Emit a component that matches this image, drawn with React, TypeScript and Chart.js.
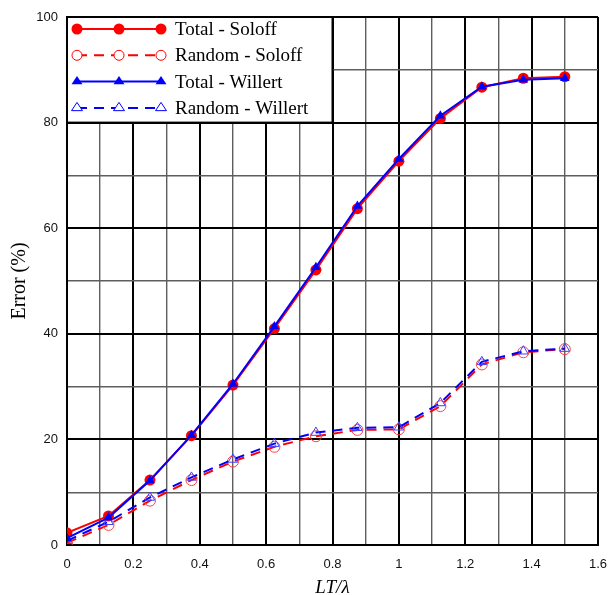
import React, { useEffect, useRef } from "react";
import { Chart, registerables } from "chart.js";

Chart.register(...registerables);

const xValues = [0, 0.125, 0.25, 0.375, 0.5, 0.625, 0.75, 0.875, 1.0, 1.125, 1.25, 1.375, 1.5];
const totalSoloff = [2.3, 5.5, 12.3, 20.7, 30.3, 41.0, 52.1, 63.7, 72.7, 80.8, 86.7, 88.4, 88.7];
const randomSoloff = [0.4, 3.8, 8.4, 12.3, 15.8, 18.6, 20.6, 21.8, 21.9, 26.3, 34.2, 36.5, 37.1];
const totalWillert = [1.3, 5.2, 12.2, 20.8, 30.5, 41.4, 52.6, 64.2, 73.1, 81.3, 86.8, 88.1, 88.4];
const randomWillert = [0.8, 4.4, 9.0, 12.8, 16.2, 19.2, 21.3, 22.2, 22.3, 26.9, 34.7, 36.7, 37.2];

const xTickLabels = ["0", "0.2", "0.4", "0.6", "0.8", "1", "1.2", "1.4", "1.6"];
const yTickLabels = ["0", "20", "40", "60", "80", "100"];
const legendLabels = ["Total - Soloff", "Random - Soloff", "Total - Willert", "Random - Willert"];

const RED = "#ff0000";
const BLUE = "#0000ff";

const toPts = (ys: number[]) => xValues.map((x, i) => ({ x, y: ys[i] }));

const isMajorX = (v: number) => Math.abs(Math.round(v * 10)) % 2 === 0;
const isMajorY = (v: number) => Math.round(v) % 20 === 0;

function drawMarker(ctx: CanvasRenderingContext2D, style: string, x: number, y: number, r: number, color: string, filled: boolean) {
  ctx.save();
  ctx.beginPath();
  if (style === "circle") {
    ctx.arc(x, y, r, 0, Math.PI * 2);
  } else {
    const h = r * 1.5;
    ctx.moveTo(x, y - r);
    ctx.lineTo(x + r * 0.866 * 1.15, y + h - r);
    ctx.lineTo(x - r * 0.866 * 1.15, y + h - r);
    ctx.closePath();
  }
  if (filled) {
    ctx.fillStyle = color;
    ctx.fill();
  } else {
    ctx.fillStyle = "#ffffff";
    ctx.fill();
    ctx.lineWidth = 1;
    ctx.strokeStyle = color;
    ctx.stroke();
  }
  ctx.restore();
}

const legendBoxPlugin = {
  id: "legendBox",
  beforeDatasetsDraw(chart: any) {
    const { ctx, scales } = chart;
    const x0 = scales.x.getPixelForValue(0);
    const x1 = scales.x.getPixelForValue(0.8);
    const y0 = scales.y.getPixelForValue(100);
    const y1 = scales.y.getPixelForValue(80);
    ctx.save();
    ctx.fillStyle = "#ffffff";
    ctx.fillRect(x0, y0, x1 - x0, y1 - y0);
    ctx.strokeStyle = "#000";
    ctx.lineWidth = 2;
    ctx.strokeRect(x0, y0, x1 - x0, y1 - y0);
    ctx.restore();
  },
  afterDraw(chart: any) {
    const { ctx, scales } = chart;
    const x0 = scales.x.getPixelForValue(0);
    const y0 = scales.y.getPixelForValue(100);
    const entries = [
      { color: RED, dash: [], marker: "circle", filled: true, r: 5.5 },
      { color: RED, dash: [10, 7], marker: "circle", filled: false, r: 5 },
      { color: BLUE, dash: [], marker: "triangle", filled: true, r: 5.5 },
      { color: BLUE, dash: [10, 7], marker: "triangle", filled: false, r: 5.5 },
    ];
    const lx0 = x0 + 10;
    const lx1 = x0 + 94;
    ctx.save();
    entries.forEach((e, i) => {
      const y = y0 + 12 + i * 26.3;
      ctx.beginPath();
      ctx.setLineDash(e.dash);
      ctx.strokeStyle = e.color;
      ctx.lineWidth = 2;
      ctx.moveTo(lx0, y);
      ctx.lineTo(lx1, y);
      ctx.stroke();
      ctx.setLineDash([]);
      [lx0, (lx0 + lx1) / 2, lx1].forEach((mx) => drawMarker(ctx, e.marker, mx, y, e.r, e.color, e.filled));
      ctx.fillStyle = "#000";
      ctx.font = "19px 'Liberation Serif', 'Times New Roman', serif";
      ctx.textBaseline = "middle";
      ctx.textAlign = "left";
      ctx.fillText(legendLabels[i], x0 + 108, y + 1);
    });
    ctx.restore();
  },
};

export default function App() {
  const canvasRef = useRef<HTMLCanvasElement | null>(null);

  useEffect(() => {
    if (!canvasRef.current) return;
    const chart = new Chart(canvasRef.current, {
      type: "line",
      data: {
        datasets: [
          {
            label: legendLabels[0],
            data: toPts(totalSoloff),
            borderColor: RED,
            backgroundColor: RED,
            borderWidth: 2,
            pointStyle: "circle",
            pointRadius: 5.5,
            pointBorderWidth: 0,
            order: 2,
          },
          {
            label: legendLabels[1],
            data: toPts(randomSoloff),
            borderColor: RED,
            backgroundColor: "rgba(255,255,255,0)",
            pointBorderColor: "#ff4040",
            borderWidth: 2,
            borderDash: [10, 7],
            pointStyle: "circle",
            pointRadius: 5.5,
            pointBorderWidth: 1,
            order: 2,
          },
          {
            label: legendLabels[2],
            data: toPts(totalWillert),
            borderColor: BLUE,
            backgroundColor: BLUE,
            borderWidth: 2,
            pointStyle: "triangle",
            pointRadius: 5.5,
            pointBorderWidth: 0,
            order: 1,
          },
          {
            label: legendLabels[3],
            data: toPts(randomWillert),
            borderColor: BLUE,
            backgroundColor: "rgba(255,255,255,0)",
            pointBorderColor: "#4040ff",
            borderWidth: 2,
            borderDash: [10, 7],
            pointStyle: "triangle",
            pointRadius: 5.5,
            pointBorderWidth: 1,
            order: 1,
          },
        ],
      },
      options: {
        responsive: false,
        animation: false,
        events: [],
        layout: { padding: { left: 0, right: 12, top: 17, bottom: 0 } },
        plugins: { legend: { display: false }, tooltip: { enabled: false } },
        scales: {
          x: {
            type: "linear",
            min: 0,
            max: 1.6,
            afterFit: (s: any) => { s.height = 50; s.paddingRight = 0; s.paddingLeft = 0; },
            ticks: {
              stepSize: 0.1,
              autoSkip: false,
              maxRotation: 0,
              padding: 12,
              color: "#111",
              font: { family: "'Liberation Sans', Arial, sans-serif", size: 13 },
              callback: (v: any) => {
                const n = Number(v);
                if (!isMajorX(n)) return "";
                return xTickLabels[Math.round(n * 5)] ?? "";
              },
            },
            grid: {
              drawTicks: false,
              color: (c: any) => (c.tick && isMajorX(c.tick.value) ? "#000" : "#5e5e5e"),
              lineWidth: (c: any) => (c.tick && isMajorX(c.tick.value) ? 2 : 1.4),
            },
            border: { color: "#000", width: 2 },
            title: {
              display: true,
              text: "LT/λ",
              color: "#000",
              font: { family: "'Liberation Serif', 'Times New Roman', serif", size: 19, style: "italic", lineHeight: 0.75 },
              padding: { top: 0, bottom: 0 },
            },
          },
          y: {
            type: "linear",
            min: 0,
            max: 100,
            afterFit: (s: any) => { s.width = 67; s.paddingTop = 0; s.paddingBottom = 0; },
            ticks: {
              stepSize: 10,
              autoSkip: false,
              padding: 9,
              color: "#111",
              font: { family: "'Liberation Sans', Arial, sans-serif", size: 13 },
              callback: (v: any) => {
                const n = Number(v);
                if (!isMajorY(n)) return "";
                return yTickLabels[Math.round(n / 20)] ?? "";
              },
            },
            grid: {
              drawTicks: false,
              color: (c: any) => (c.tick && isMajorY(c.tick.value) ? "#000" : "#5e5e5e"),
              lineWidth: (c: any) => (c.tick && isMajorY(c.tick.value) ? 2 : 1.4),
            },
            border: { color: "#000", width: 2 },
            title: {
              display: true,
              text: "Error (%)",
              color: "#000",
              font: { family: "'Liberation Serif', 'Times New Roman', serif", size: 20 },
              padding: { top: 8, bottom: 0 },
            },
          },
        },
      },
      plugins: [legendBoxPlugin],
    } as any);
    return () => chart.destroy();
  }, []);

  return (
    <div style={{ position: "absolute", left: 0, top: 0, width: 610, height: 595, background: "#fff" }}>
      <canvas ref={canvasRef} width={610} height={595} style={{ display: "block" }} />
    </div>
  );
}
